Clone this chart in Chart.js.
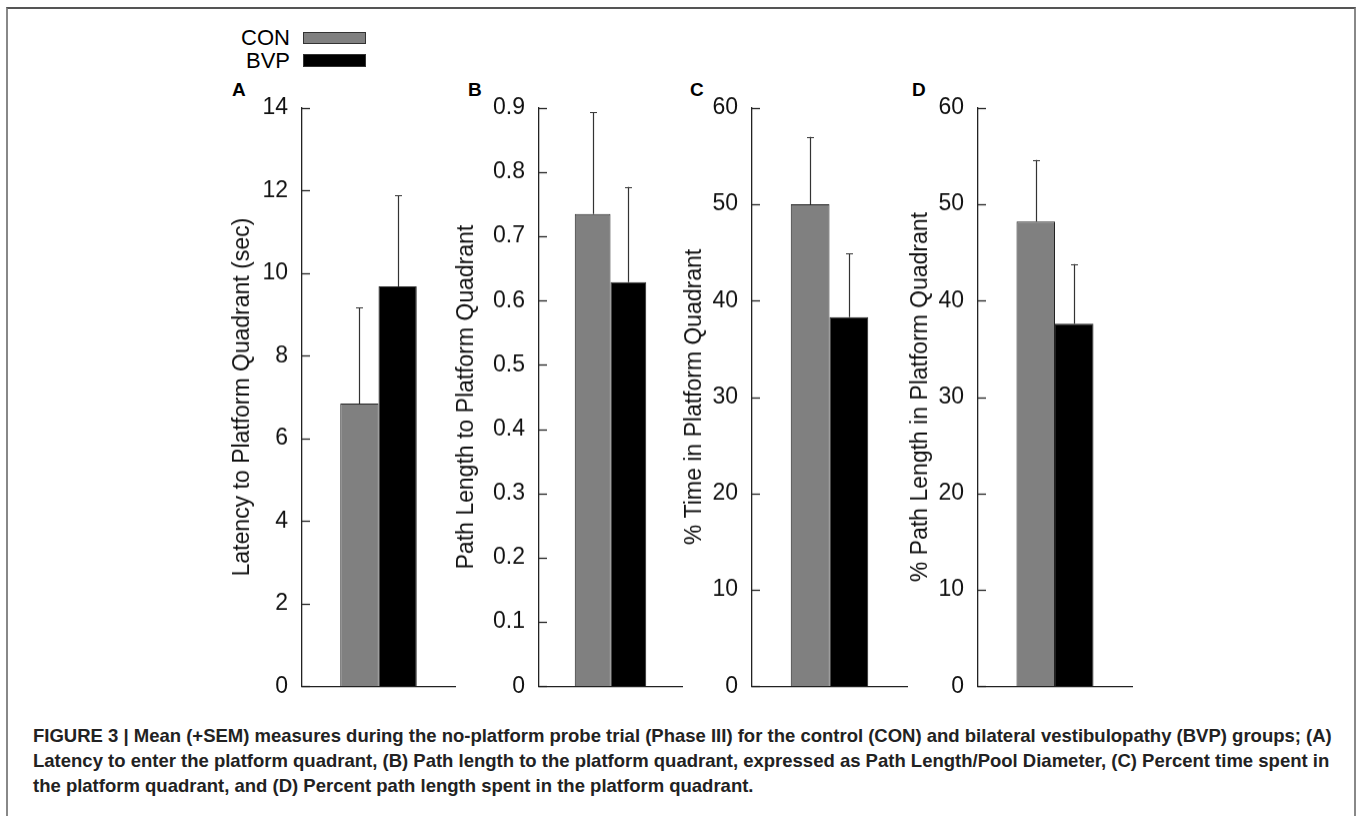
<!DOCTYPE html>
<html><head><meta charset="utf-8">
<script src="https://cdn.jsdelivr.net/npm/chart.js@4.4.1/dist/chart.umd.min.js"></script>
<style>
html,body{margin:0;padding:0;background:#fff;width:1357px;height:816px;overflow:hidden;}
#frame{position:absolute;left:6px;top:7px;width:1350px;height:830px;border-top:2px solid #555;border-left:2px solid #888;border-right:2px solid #888;box-sizing:border-box;}
.panel{position:absolute;}
.plabel{position:absolute;font:bold 19px "Liberation Sans",Arial,sans-serif;color:#000;line-height:20px;}
.legtxt{position:absolute;font:22px "Liberation Sans",Arial,sans-serif;color:#000;line-height:24px;text-align:right;width:90px;}
.legbox{position:absolute;box-sizing:border-box;border:1px solid #333;}
#caption{position:absolute;left:33px;top:723px;font:bold 18.5px "Liberation Sans",Arial,sans-serif;line-height:25px;color:#222;white-space:nowrap;}
</style></head>
<body>
<div id="frame"></div>
<div class="legtxt" style="left:200px;top:26px;">CON</div>
<div class="legtxt" style="left:200px;top:49px;">BVP</div>
<div class="legbox" style="left:303px;top:32px;width:63px;height:12px;background:#808080;"></div>
<div class="legbox" style="left:303px;top:54px;width:63px;height:13px;background:#000;"></div>
<div class="plabel" style="left:232px;top:80px;">A</div>
<div class="plabel" style="left:468px;top:80px;">B</div>
<div class="plabel" style="left:690px;top:80px;">C</div>
<div class="plabel" style="left:912px;top:80px;">D</div>
<canvas id="cA" class="panel"></canvas>
<canvas id="cB" class="panel"></canvas>
<canvas id="cC" class="panel"></canvas>
<canvas id="cD" class="panel"></canvas>
<div id="caption">FIGURE 3 | Mean (+SEM) measures during the no-platform probe trial (Phase III) for the control (CON) and bilateral vestibulopathy (BVP) groups; (A)<br>Latency to enter the platform quadrant, (B) Path length to the platform quadrant, expressed as Path Length/Pool Diameter, (C) Percent time spent in<br>the platform quadrant, and (D) Percent path length spent in the platform quadrant.</div>
<script>
// ---- data ----
const groups = ['CON', 'BVP'];
const groupColors = ['#808080', '#000000'];
const latencyMean = [6.84, 9.68];
const latencySem = [2.33, 2.20];
const pathMean = [0.735, 0.629];
const pathSem = [0.158, 0.148];
const timeMean = [50.0, 38.3];
const timeSem = [7.0, 6.6];
const pctPathMean = [48.2, 37.6];
const pctPathSem = [6.4, 6.2];
const yTitles = ['Latency to Platform Quadrant (sec)', 'Path Length to Platform Quadrant', '% Time in Platform Quadrant', '% Path Length in Platform Quadrant'];
const yMax = [14, 0.9, 60, 60];
const yStep = [2, 0.1, 10, 10];

// ---- layout (page pixels) ----
const layouts = [
  {id:'cA', L:229, axisX:302, axisEnd:455},
  {id:'cB', L:453, axisX:539, axisEnd:682},
  {id:'cC', L:681, axisX:752, axisEnd:907},
  {id:'cD', L:907, axisX:978, axisEnd:1132}
];
const TOP = 90, PLOT_TOP = 108, PLOT_BOTTOM = 686, PAD_BOTTOM = 20;
const means = [latencyMean, pathMean, timeMean, pctPathMean];
const sems = [latencySem, pathSem, timeSem, pctPathSem];
const FONT = '"Liberation Sans", Arial, sans-serif';

const extras = {
  id: 'extras',
  afterDatasetsDraw(chart, args, opts) {
    const ctx = chart.ctx, y = chart.scales.y, ca = chart.chartArea;
    ctx.save();
    ctx.strokeStyle = '#222';
    ctx.lineWidth = 1.3;
    y.ticks.forEach(t => {
      const py = Math.round(y.getPixelForValue(t.value)) + 0.5;
      ctx.beginPath(); ctx.moveTo(ca.left, py); ctx.lineTo(ca.left + 8, py); ctx.stroke();
    });
    ctx.lineWidth = 1.2;
    ctx.strokeStyle = '#333';
    chart.data.datasets.forEach((ds, di) => {
      const meta = chart.getDatasetMeta(di);
      meta.data.forEach((bar, i) => {
        const v = ds.data[i];
        const top = y.getPixelForValue(v + opts.sem[di]);
        const x = Math.round(bar.x) + 0.5;
        ctx.beginPath();
        ctx.moveTo(x, bar.y); ctx.lineTo(x, top);
        ctx.moveTo(x - 3.5, Math.round(top) + 0.5); ctx.lineTo(x + 3.5, Math.round(top) + 0.5);
        ctx.stroke();
      });
    });
    ctx.restore();
  }
};

function buildConfig(k, yw) {
  return {
    type: 'bar',
    data: {
      labels: [''],
      datasets: groups.map((g, gi) => ({
        label: g,
        data: [means[k][gi]],
        backgroundColor: groupColors[gi],
        borderColor: '#222',
        borderWidth: 1,
        borderSkipped: 'bottom',
        categoryPercentage: 0.5,
        barPercentage: 1.0
      }))
    },
    options: {
      responsive: false,
      animation: false,
      devicePixelRatio: 1,
      layout: {padding: {left: 0, right: 2, top: PLOT_TOP - TOP, bottom: PAD_BOTTOM}},
      plugins: {
        legend: {display: false},
        tooltip: {enabled: false},
        extras: {sem: groups.map((g, gi) => sems[k][gi])}
      },
      scales: {
        x: {
          ticks: {display: false},
          grid: {display: false, drawTicks: false},
          border: {display: true, color: '#222', width: 1.3},
          afterFit: s => { s.height = 0; }
        },
        y: {
          min: 0, max: yMax[k],
          ticks: {stepSize: yStep[k], padding: 14, color: '#111', font: {family: FONT, size: 23}},
          grid: {display: false, drawTicks: false},
          border: {display: true, color: '#222', width: 1.3},
          title: {display: true, text: yTitles[k], color: '#111', padding: {top: 0, bottom: 0}, font: {family: FONT, size: 23}},
          afterFit: s => { s.width = yw; }
        }
      }
    },
    plugins: [extras]
  };
}

layouts.forEach((lo, k) => {
  const cv = document.getElementById(lo.id);
  const W = lo.axisEnd - lo.L + 2;
  let H = PLOT_BOTTOM - TOP + PAD_BOTTOM;
  let top = TOP;
  const yw = lo.axisX - lo.L;
  const place = () => {
    cv.style.left = lo.L + 'px';
    cv.style.top = top + 'px';
    cv.style.width = W + 'px';
    cv.style.height = H + 'px';
    cv.width = W; cv.height = H;
  };
  place();
  let chart = new Chart(cv, buildConfig(k, yw));
  // align plot area to target pixel positions
  const ca = chart.chartArea;
  top = PLOT_TOP - ca.top;
  H = (PLOT_BOTTOM - top) + (H - ca.bottom);
  chart.destroy();
  place();
  chart = new Chart(cv, buildConfig(k, yw));
});
</script>
</body></html>
